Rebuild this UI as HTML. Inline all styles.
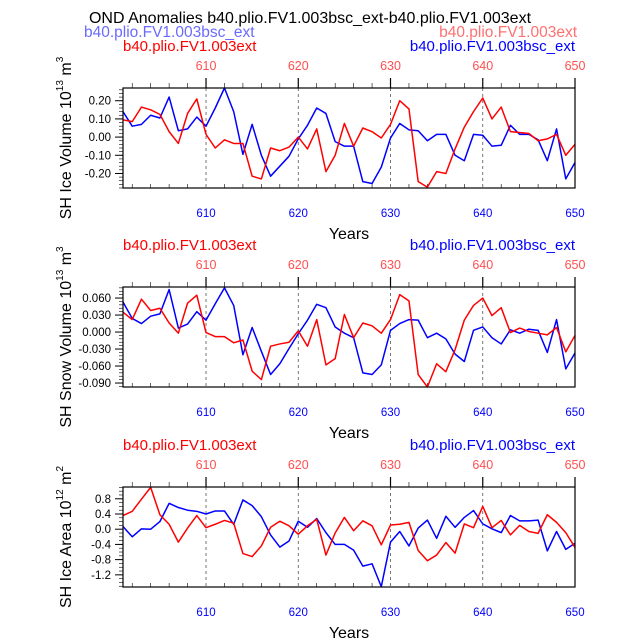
<!DOCTYPE html>
<html><head><meta charset="utf-8"><style>
body{margin:0;background:#fff}
svg{display:block;font-family:"Liberation Sans",Arial,sans-serif}
</style></head><body>
<svg id="c" width="638" height="639" viewBox="0 0 638 639">
<text x="310" y="23" font-size="16" text-anchor="middle" fill="#000">OND Anomalies b40.plio.FV1.003bsc_ext-b40.plio.FV1.003ext</text>
<text x="84" y="37" font-size="15.5" fill="#6a6aff">b40.plio.FV1.003bsc_ext</text>
<text x="577" y="37" font-size="15.5" text-anchor="end" fill="#ff7070">b40.plio.FV1.003ext</text>
</svg>
<script>
const years=[];for(let y=601;y<=650;y++)years.push(y);
const xTicks=[610,620,630,640,650];
const iceVolRed=[0.095,0.085,0.165,0.15,0.125,0.03,-0.035,0.13,0.21,0.015,-0.06,-0.015,-0.035,-0.035,-0.215,-0.23,-0.06,-0.075,-0.055,0.0,-0.065,0.045,-0.19,-0.10,0.075,-0.05,0.05,0.03,-0.005,0.07,0.20,0.155,-0.245,-0.275,-0.19,-0.20,-0.065,0.055,0.14,0.215,0.10,0.165,0.03,0.025,0.02,-0.02,-0.01,0.015,-0.10,-0.04];
const iceVolBlue=[0.14,0.06,0.07,0.12,0.105,0.22,0.035,0.045,0.11,0.06,0.16,0.27,0.14,-0.095,0.07,-0.1,-0.215,-0.16,-0.105,-0.01,0.065,0.16,0.13,-0.025,-0.05,-0.05,-0.245,-0.255,-0.165,-0.005,0.075,0.04,0.035,-0.02,0.015,0.015,-0.10,-0.13,0.015,0.01,-0.05,-0.045,0.065,0.015,0.015,-0.015,-0.13,0.045,-0.23,-0.14];
const snowRed=[0.035,0.022,0.058,0.038,0.042,0.016,-0.002,0.051,0.065,-0.001,-0.008,-0.008,-0.019,-0.014,-0.069,-0.084,-0.025,-0.021,-0.018,0.002,-0.025,0.022,-0.058,-0.047,0.031,-0.01,0.016,0.011,-0.002,0.022,0.066,0.055,-0.075,-0.097,-0.056,-0.07,-0.031,0.021,0.047,0.06,0.029,0.043,-0.001,0.007,0.001,-0.002,-0.005,0.008,-0.035,-0.006];
const snowBlue=[0.053,0.024,0.015,0.028,0.032,0.075,0.007,0.014,0.036,0.021,0.05,0.078,0.047,-0.04,0.008,-0.034,-0.075,-0.056,-0.029,-0.003,0.021,0.049,0.043,0.009,-0.002,-0.01,-0.072,-0.075,-0.058,0.003,0.015,0.022,0.021,-0.01,-0.002,-0.012,-0.039,-0.052,0.003,0.009,-0.01,-0.021,0.004,-0.002,0.005,0.003,-0.036,0.022,-0.065,-0.037];
const areaRed=[0.36,0.47,0.79,1.10,0.38,0.13,-0.34,0.03,0.36,0.04,0.13,0.23,0.16,-0.64,-0.72,-0.44,0.05,0.21,0.09,-0.13,0.09,0.26,-0.68,-0.1,0.31,-0.04,0.22,0.09,-0.41,0.11,0.13,0.18,-0.56,-0.83,-0.68,-0.35,-0.63,0.14,0.04,0.6,0.04,0.23,-0.15,0.1,-0.06,-0.11,0.38,0.18,-0.09,-0.48];
const areaBlue=[0.07,-0.2,0.01,0.0,0.2,0.68,0.57,0.5,0.47,0.4,0.48,0.48,0.13,0.77,0.62,0.33,-0.15,-0.47,-0.31,0.21,0.05,0.28,-0.09,-0.4,-0.4,-0.55,-0.97,-0.91,-1.51,-0.34,-0.06,-0.44,0.03,0.24,-0.24,0.34,0.05,0.31,0.49,0.14,0.01,-0.09,0.36,0.22,0.22,0.24,-0.57,-0.06,-0.53,-0.37];
const iceVolTicks=[0.2,0.1,0,-0.1,-0.2];
const snowTicks=[0.06,0.03,0,-0.03,-0.06,-0.09];
const areaTicks=[0.8,0.4,0,-0.4,-0.8,-1.2];

const NS='http://www.w3.org/2000/svg';
const svg=document.getElementById('c');
function mk(t,a,p){const e=document.createElementNS(NS,t);for(const k in a)e.setAttribute(k,a[k]);(p||svg).appendChild(e);return e;}
const X0=123,X1=575;
function xs(y){return X0+(y-601)*(X1-X0)/49;}

function panel(top,vmax,vmin,ticks,fmt,minorStep,red,blue,label,sup1,sup2,name){
  const bot=top+100;
  const g=mk('g',{});
  
  
  const ys=v=>top+(vmax-v)/(vmax-vmin)*(bot-top);
  // dashed grid
  xTicks.slice(0,4).forEach(t=>{const l=mk('line',{x1:xs(t),x2:xs(t),y1:top,y2:bot,stroke:'#555','stroke-width':0.8,'stroke-dasharray':'3,3'},g);
    });
  // ticks top and bottom
  for(let y=602;y<=650;y+=2){const maj=(y%10==0);
    mk('line',{x1:xs(y),x2:xs(y),y1:top,y2:top-(maj?10:5),stroke:'#000','stroke-width':maj?1.2:0.6},g);
    mk('line',{x1:xs(y),x2:xs(y),y1:bot,y2:bot-(maj?0:4),stroke:'#000','stroke-width':0.6},g);}
  // y ticks
  const lo=Math.ceil(vmin/minorStep),hi=Math.floor(vmax/minorStep);
  for(let i=lo;i<=hi;i++){const v=i*minorStep;mk('line',{x1:X0,x2:X0-4,y1:ys(v),y2:ys(v),stroke:'#000','stroke-width':0.6},g);}
  ticks.forEach(v=>{mk('line',{x1:X0,x2:X0-8,y1:ys(v),y2:ys(v),stroke:'#000','stroke-width':1},g);
    const t=mk('text',{x:X0-12,y:ys(v)+4,'font-size':11.5,'text-anchor':'end'},g);t.textContent=fmt(v);
    });
  // series
  [[blue,'#0000ff','blue-series'],[red,'#ff0000','red-series']].forEach(([d,c,n])=>{
    const p=mk('polyline',{points:d.map((v,i)=>xs(years[i])+','+ys(v)).join(' '),fill:'none',stroke:c,'stroke-width':1.5,'stroke-linejoin':'round'},g);
    });
  const b=mk('rect',{x:X0,y:top,width:X1-X0,height:bot-top,fill:'none',stroke:'#000','stroke-width':1.2},g);
  
  xTicks.forEach(t=>{
    const a=mk('text',{x:xs(t),y:bot+29,'font-size':11.5,'text-anchor':'middle',fill:'#0000ff'},g);a.textContent=t;
    
    const c=mk('text',{x:xs(t),y:top-18,'font-size':12.5,'text-anchor':'middle',fill:'#ff5050'},g);c.textContent=t;
    });
  const yr=mk('text',{x:349,y:bot+51,'font-size':16,'text-anchor':'middle'},g);yr.textContent='Years';
  
  const lt=mk('text',{x:X0,y:top-37,'font-size':15,fill:'#ff0000'},g);lt.textContent='b40.plio.FV1.003ext';
  
  const rt=mk('text',{x:X1,y:top-37,'font-size':15,fill:'#0000ff','text-anchor':'end'},g);rt.textContent='b40.plio.FV1.003bsc_ext';
  
  const yl=mk('text',{transform:'translate(71,'+(top+50)+') rotate(-90)','font-size':16,'text-anchor':'middle'},g);
  yl.innerHTML=label+' 10<tspan font-size="10" dy="-8">'+sup1+'</tspan><tspan dy="8"> </tspan>m<tspan font-size="10" dy="-8">'+sup2+'</tspan>';
  
}
panel(88,0.27,-0.28,iceVolTicks,v=>v.toFixed(2),0.02,iceVolRed,iceVolBlue,'SH Ice Volume','13','3','ice-volume');
panel(287,0.0795,-0.097,snowTicks,v=>v.toFixed(3),0.006,snowRed,snowBlue,'SH Snow Volume','13','3','snow-volume');
panel(487,1.11,-1.52,areaTicks,v=>v.toFixed(1),0.1,areaRed,areaBlue,'SH Ice Area','12','2','ice-area');
</script>
</body></html>
